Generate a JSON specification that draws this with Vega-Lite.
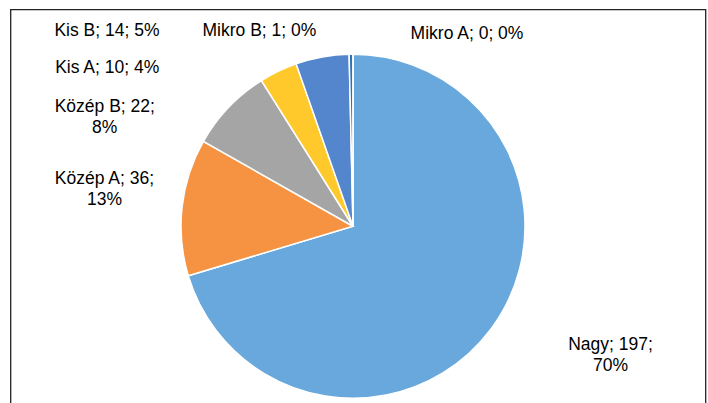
{
  "$schema": "https://vega.github.io/schema/vega-lite/v6.json",
  "width": 708,
  "height": 403,
  "autosize": {"type": "fit", "contains": "padding"},
  "padding": {"left": 10.5, "top": 6.5, "right": 2.5, "bottom": -40},
  "background": "white",
  "view": {"stroke": "#222222", "strokeWidth": 1.3},
  "config": {"view": {"stroke": "#222222", "strokeWidth": 1.3}},
  "data": {
    "values": [
      {"cat": "Nagy", "value": 197},
      {"cat": "Közép A", "value": 36},
      {"cat": "Közép B", "value": 22},
      {"cat": "Kis A", "value": 10},
      {"cat": "Kis B", "value": 14},
      {"cat": "Mikro B", "value": 1},
      {"cat": "Mikro A", "value": 0}
    ]
  },
  "transform": [
    {"window": [{"op": "row_number", "as": "idx"}]},
    {"joinaggregate": [{"op": "sum", "field": "value", "as": "total"}]},
    {"calculate": "format(datum.value / datum.total, '.0%')", "as": "pct"},
    {"calculate": "indexof(['Nagy', 'Közép A', 'Közép B'], datum.cat) >= 0 ? datum.cat + '; ' + datum.value + ';\\n' + datum.pct : datum.cat + '; ' + datum.value + '; ' + datum.pct", "as": "lbl"}
  ],
  "encoding": {
    "theta": {"field": "value", "type": "quantitative", "stack": true},
    "order": {"field": "idx", "type": "quantitative"}
  },
  "layer": [
    {
      "mark": {"type": "arc", "outerRadius": 172, "stroke": "white", "strokeWidth": 1.5, "x": {"expr": "width/2-5"}},
      "encoding": {
        "color": {
          "field": "cat",
          "type": "nominal",
          "legend": null,
          "scale": {
            "domain": ["Nagy", "Közép A", "Közép B", "Kis A", "Kis B", "Mikro B", "Mikro A"],
            "range": ["#68A8DC", "#F59343", "#A5A5A5", "#FFC92B", "#5486CE", "#2E72B0", "#70AD47"]
          }
        }
      }
    },
    {
      "mark": {
        "type": "text",
        "radius": 230,
        "font": "Liberation Sans",
        "fontSize": 17.5,
        "align": "center",
        "baseline": "middle",
        "lineBreak": "\n",
        "lineHeight": 21,
        "color": "#000000",
        "x": {"expr": "width/2-5"},
        "dx": {"expr": "datum.cat === 'Nagy' ? 73 : datum.cat === 'Közép A' ? -20 : datum.cat === 'Közép B' ? -82 : datum.cat === 'Kis A' ? -146 : datum.cat === 'Kis B' ? -205 : datum.cat === 'Mikro B' ? -91 : 114"},
        "dy": {"expr": "datum.cat === 'Nagy' ? -18.5 : datum.cat === 'Közép A' ? -21.5 : datum.cat === 'Közép B' ? 39.5 : datum.cat === 'Kis A' ? 49 : datum.cat === 'Kis B' ? 31 : datum.cat === 'Mikro B' ? 35 : 38"}
      },
      "encoding": {"text": {"field": "lbl", "type": "nominal"}}
    }
  ]
}
